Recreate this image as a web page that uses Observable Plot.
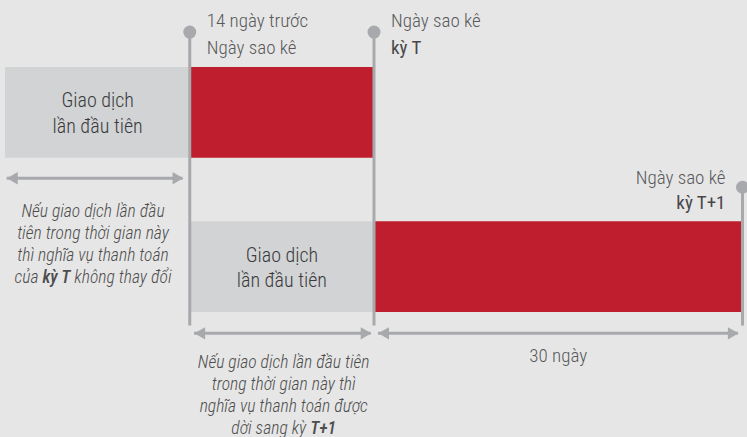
<!DOCTYPE html>
<html>
<head>
<meta charset="utf-8">
<script src="https://cdn.jsdelivr.net/npm/d3@7"></script>
<script src="https://cdn.jsdelivr.net/npm/@observablehq/plot@0.6"></script>
<style>
  html, body { margin: 0; padding: 0; background: #e6e6e6; }
  #chart svg { display: block; }
</style>
</head>
<body>
<div id="chart"></div>
<script>
// ---- Data ----
// x: timeline segments (0 = statement date of period T; -1 = 14 days before; 2 = statement date T+1, 30 days later)
// y: lanes (top row 0..1, bottom row 1.7..2.7)
const bars = [
  {x1: -2, x2: -1, y1: 0,   y2: 1,   kind: "grey"},
  {x1: -1, x2: 0,  y1: 0,   y2: 1,   kind: "red"},
  {x1: -1, x2: 0,  y1: 1.7, y2: 2.7, kind: "grey"},
  {x1: 0,  x2: 2,  y1: 1.7, y2: 2.7, kind: "red"}
];
const barLabels = [
  {x: -1.5, y: 0.5, text: "Giao dịch\nlần đầu tiên"},
  {x: -0.5, y: 2.2, text: "Giao dịch\nlần đầu tiên"}
];
const markers = [
  {x: -1, y1: -0.39, y2: 2.85},
  {x: 0,  y1: -0.39, y2: 2.85},
  {x: 2,  y1: 1.32,  y2: 2.85}
];
const dateLabels = [
  {x: -1, y: -0.441, text: "14 ngày trước", bold: false, anchor: "start"},
  {x: -1, y: -0.154, text: "Ngày sao kê",   bold: false, anchor: "start"},
  {x: 0,  y: -0.441, text: "Ngày sao kê",   bold: false, anchor: "start"},
  {x: 0,  y: -0.154, text: "kỳ T",          bold: true,  anchor: "start"},
  {x: 2,  y: 1.284,  text: "Ngày sao kê",   bold: false, anchor: "end"},
  {x: 2,  y: 1.559,  text: "kỳ T+1",        bold: true,  anchor: "end"}
];
const arrows = [
  {x1: -1.991, x2: -1.036, y: 1.22},
  {x1: -0.974, x2: -0.015, y: 2.93},
  {x1: 0.024,  x2: 1.978,  y: 2.93}
];
const spanLabels = [{x: 1, y: 3.24, text: "30 ngày"}];
const notes = [
  {x: -1.525, y: 1.935, text: "Nếu giao dịch lần đầu\ntiên trong thời gian này\nthì nghĩa vụ thanh toán\ncủa *kỳ T* không thay đổi"},
  {x: -0.49,  y: 3.60,  text: "Nếu giao dịch lần đầu tiên\ntrong thời gian này thì\nnghĩa vụ thanh toán được\ndời sang kỳ *T+1*"}
];

// ---- Derived tables ----
const heads = arrows.flatMap(a => [
  {x: a.x1, y: a.y, dir: "left"},
  {x: a.x2, y: a.y, dir: "right"}
]);

const FONT = "'Roboto Condensed', Roboto, sans-serif";
const LINE = "#a7a9ac";
const RED = "#be1e2d";
const GREY = "#d1d3d4";
const LABEL = "#58595b";

const plot = Plot.plot({
  width: 747,
  height: 437,
  margin: 0,
  style: {background: "#e6e6e6", fontFamily: FONT, overflow: "visible"},
  x: {domain: [-2, 2], range: [5, 742], axis: null},
  y: {domain: [0, 2.7], range: [67, 312], axis: null},
  marks: [
    Plot.rect(bars, {x1: "x1", x2: "x2", y1: "y1", y2: "y2", fill: d => d.kind === "red" ? RED : GREY}),
    Plot.text(barLabels, {x: "x", y: "y", text: "text", fontSize: 20, fontWeight: 300, fill: "#3a3a3c", lineAnchor: "middle", lineHeight: 1.27, dy: -1}),
    Plot.ruleX(markers, {x: "x", y1: "y1", y2: "y2", stroke: LINE, strokeWidth: 3}),
    Plot.dot(markers, {x: "x", y: "y1", r: 6.5, fill: LINE}),
    Plot.ruleY(arrows, {y: "y", x1: "x1", x2: "x2", stroke: LINE, strokeWidth: 3}),
    Plot.dot(heads.filter(d => d.dir === "right"), {x: "x", y: "y", symbol: "triangle", r: 4.6, rotate: 90, dx: -7, fill: LINE}),
    Plot.dot(heads.filter(d => d.dir === "left"), {x: "x", y: "y", symbol: "triangle", r: 4.6, rotate: -90, dx: 7, fill: LINE}),
    Plot.text(dateLabels.filter(d => d.anchor === "start" && !d.bold), {x: "x", y: "y", text: "text", textAnchor: "start", lineAnchor: "bottom", dx: 17, fontSize: 19, fontWeight: 300, fill: LABEL}),
    Plot.text(dateLabels.filter(d => d.anchor === "start" && d.bold), {x: "x", y: "y", text: "text", textAnchor: "start", lineAnchor: "bottom", dx: 17, fontSize: 19, fontWeight: 400, fill: "#48484a"}),
    Plot.text(dateLabels.filter(d => d.anchor === "end" && !d.bold), {x: "x", y: "y", text: "text", textAnchor: "end", lineAnchor: "bottom", dx: -17, fontSize: 19, fontWeight: 300, fill: LABEL}),
    Plot.text(dateLabels.filter(d => d.anchor === "end" && d.bold), {x: "x", y: "y", text: "text", textAnchor: "end", lineAnchor: "bottom", dx: -17, fontSize: 19, fontWeight: 400, fill: "#48484a"}),
    Plot.text(spanLabels, {x: "x", y: "y", text: "text", lineAnchor: "bottom", fontSize: 19, fontWeight: 300, fill: LABEL}),
    Plot.text(notes, {x: "x", y: "y", text: "text", lineAnchor: "middle", lineHeight: 1.24, fontSize: 17.6, fontStyle: "italic", fontWeight: 300, fill: "#4d4d4d"})
  ]
});

document.getElementById("chart").appendChild(plot);

// Bold segments marked with *...* inside the note lines
plot.querySelectorAll("text, tspan").forEach(node => {
  if (node.children.length) return;
  const s = node.textContent;
  if (!s.includes("*")) return;
  node.textContent = "";
  s.split("*").forEach((part, i) => {
    if (!part) return;
    const ts = document.createElementNS("http://www.w3.org/2000/svg", "tspan");
    ts.textContent = part;
    if (i % 2 === 1) ts.setAttribute("font-weight", 500);
    node.appendChild(ts);
  });
});
</script>
</body>
</html>
